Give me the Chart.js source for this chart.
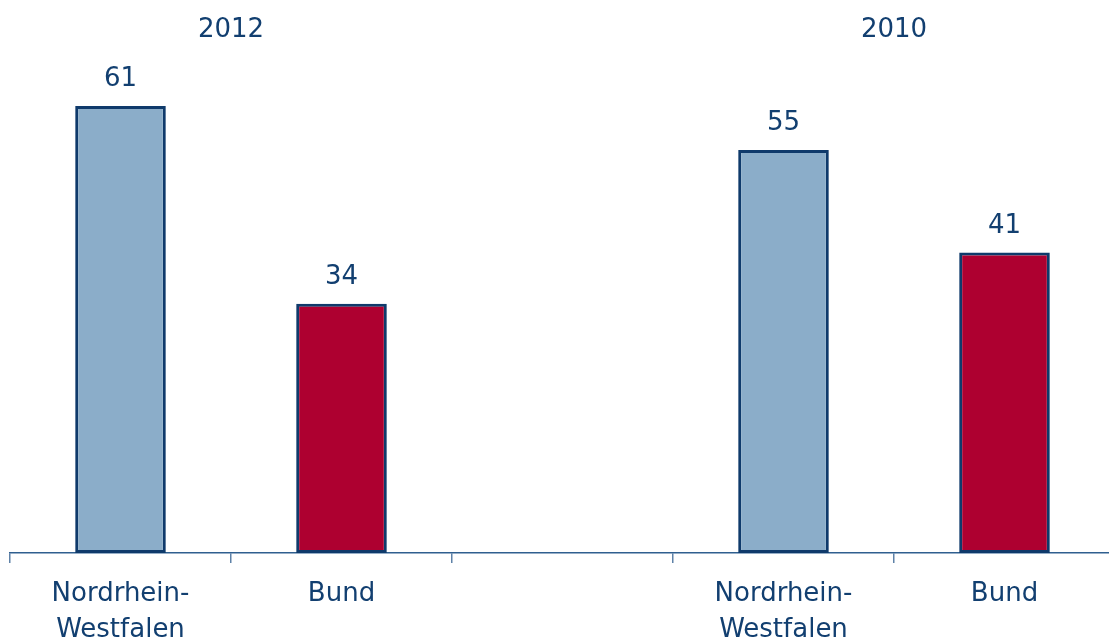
<!DOCTYPE html>
<html>
<head>
<meta charset="utf-8">
<script src="https://cdn.jsdelivr.net/npm/chart.js@4/dist/chart.umd.min.js"></script>
<style>
    html, body { margin: 0; padding: 0; background: #fff; overflow: hidden; }
    canvas { display: block; }
</style>
</head>
<body>
<canvas id="wahl_chart" width="1115" height="639"></canvas>
<script>
// categories and values
var categories = [['Nordrhein-', 'Westfalen'], 'Bund', '', ['Nordrhein-', 'Westfalen'], 'Bund'];
var nrwValues = [61, null, null, 55, null];
var bundValues = [null, 34, null, null, 41];
var yearLabels = ['2012', '2010'];
var yearCategories = [[0, 1], [3, 4]]; // first and last category of each year

var textColor = '#123f70';
var fontFamily = '"DejaVu Sans", Verdana, sans-serif';

// value above each bar and the year above each pair of bars
var labelPlugin = {
    id: 'labelPlugin',
    afterDatasetsDraw: function (chart) {
        var ctx = chart.ctx;
        ctx.save();
        ctx.fillStyle = textColor;
        ctx.font = '26px ' + fontFamily;
        ctx.textAlign = 'center';
        ctx.textBaseline = 'alphabetic';

        chart.data.datasets.forEach(function (dataset, i) {
            chart.getDatasetMeta(i).data.forEach(function (bar, j) {
                var value = dataset.data[j];
                if (value === null) return;
                ctx.fillText(value, bar.x, bar.y - 20);
            });
        });

        var xScale = chart.scales.x;
        yearLabels.forEach(function (label, k) {
            var range = yearCategories[k];
            var x = (xScale.getPixelForValue(range[0]) + xScale.getPixelForValue(range[1])) / 2;
            ctx.fillText(label, x, 37);
        });
        ctx.restore();
    }
};

var ctx = document.getElementById('wahl_chart').getContext('2d');
var chart = new Chart(ctx, {
    type: 'bar',
    data: {
        labels: categories,
        datasets: [{
            label: 'Nordrhein-Westfalen',
            data: nrwValues,
            backgroundColor: '#8badc9',
            borderColor: '#0f3a6b',
            borderWidth: 3,
            borderSkipped: false
        }, {
            label: 'Bund',
            data: bundValues,
            backgroundColor: '#ae0030',
            borderColor: '#0f3a6b',
            borderWidth: 3,
            borderSkipped: false
        }]
    },
    options: {
        responsive: false,
        animation: false,
        devicePixelRatio: 1,
        skipNull: true,
        categoryPercentage: 1,
        barPercentage: 0.41,
        layout: {
            padding: { left: 10, top: 40, right: 0, bottom: 0 }
        },
        scales: {
            x: {
                grid: {
                    display: true,
                    drawOnChartArea: false,
                    drawTicks: true,
                    tickLength: 10,
                    color: '#5f82a8',
                    lineWidth: 1.5
                },
                border: {
                    display: true,
                    color: '#2f5f8f',
                    width: 1.5
                },
                ticks: {
                    color: textColor,
                    padding: 13,
                    maxRotation: 0,
                    autoSkip: false,
                    font: { family: fontFamily, size: 26, lineHeight: 1.385 }
                },
                afterFit: function (scale) {
                    scale.height = 86;
                }
            },
            y: {
                display: false,
                beginAtZero: true,
                min: 0,
                max: 70
            }
        },
        plugins: {
            legend: { display: false },
            tooltip: { enabled: false }
        }
    },
    plugins: [labelPlugin]
});
</script>
</body>
</html>
